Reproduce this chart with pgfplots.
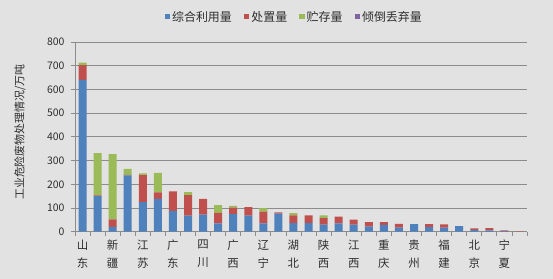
\documentclass[border=0pt]{standalone}
\usepackage{fontspec}
\setmainfont{Noto Sans CJK SC}
\usepackage{pgfplots}
\usepackage{pgfplotstable}
\pgfplotsset{compat=1.18}
\definecolor{bg}{RGB}{226,226,226}
\definecolor{cblue}{RGB}{79,129,189}
\definecolor{cred}{RGB}{192,80,77}
\definecolor{cgreen}{RGB}{155,187,89}
\definecolor{cpurple}{RGB}{128,100,162}
\definecolor{gridc}{RGB}{140,140,140}
\definecolor{txt}{RGB}{45,45,45}
\pgfplotstableread{
idx blue red green purple
0 640 63 10 0
1 150 3 178 0
2 20 32 275 0
3 238 2 25 0
4 125 114 7 0
5 138 28 82 0
6 88 82 0 0
7 68 86 13 0
8 72 66 0 0
9 35 44 33 0
10 74 28 7 0
11 68 36 0 0
12 35 50 14 0
13 76 6 0 0
14 36 33 9 0
15 36 33 0 0
16 30 27 12 0
17 35 29 0 0
18 30 21 0 0
19 21 19 0 0
20 29 11 0 0
21 17 16 0 0
22 32 0 0 0
23 19 13 0 0
24 17 14 0 0
25 24 0 0 0
26 8 6 0 0
27 6 9 0 0
28 2 4 0 0
29 0 1 0 0
}\datatable
\begin{document}
\begin{tikzpicture}
\useasboundingbox (-75bp,-47.3bp) rectangle (478bp,231.7bp);
\fill[bg] (-75bp,-47.3bp) rectangle (478bp,231.7bp);
\begin{axis}[
  at={(0,0)}, anchor=south west,
  scale only axis, width=452bp, height=189.7bp,
  xmin=-0.5, xmax=29.5, ymin=0, ymax=800,
  ybar stacked, bar width=8bp,
  axis x line=bottom, axis y line=left,
  axis line style={-, gridc, line width=0.8bp},
  ytick={0,100,...,800},
  ymajorgrids, grid style={gridc, line width=0.9bp},
  xtick={-0.5,0.5,...,29.5}, xticklabels={},
  tick align=outside, major tick length=4bp,
  tick style={gridc, line width=0.8bp},
  extra x ticks={0,2,...,28},
  extra x tick style={major tick length=0pt, tick style={draw=none}},
  extra x tick labels={山\\东,新\\疆,江\\苏,广\\东,四\\川,广\\西,辽\\宁,湖\\北,陕\\西,江\\西,重\\庆,贵\\州,福\\建,北\\京,宁\\夏},
  x tick label style={align=center, font=\fontsize{11.5}{17.5}\selectfont, text=txt, yshift=-5bp},
  y tick label style={font=\fontsize{10.5}{12}\selectfont, text=txt, xshift=-3bp},
  /pgf/number format/assume math mode=true,
  ylabel={工业危险废物处理情况/万吨},
  ylabel style={at={(axis description cs:-0.1217,0.5256)}, anchor=center, font=\fontsize{11}{13}\selectfont, text=txt},
  legend columns=4,
  legend style={at={(axis description cs:0.485,1.132)}, anchor=center, draw=none, fill=none,
    font=\fontsize{12}{14}\selectfont, text=txt, /tikz/every even column/.append style={column sep=10bp}},
  legend image code/.code={\fill[#1] (0bp,-2.5bp) rectangle (5.5bp,3bp);},
]
\addplot[fill=cblue, draw=none] table[x=idx, y=blue] {\datatable};
\addplot[fill=cred, draw=none] table[x=idx, y=red] {\datatable};
\addplot[fill=cgreen, draw=none] table[x=idx, y=green] {\datatable};
\addplot[fill=cpurple, draw=none] table[x=idx, y=purple] {\datatable};
\legend{综合利用量,处置量,贮存量,倾倒丢弃量}
\end{axis}
\end{tikzpicture}
\end{document}
